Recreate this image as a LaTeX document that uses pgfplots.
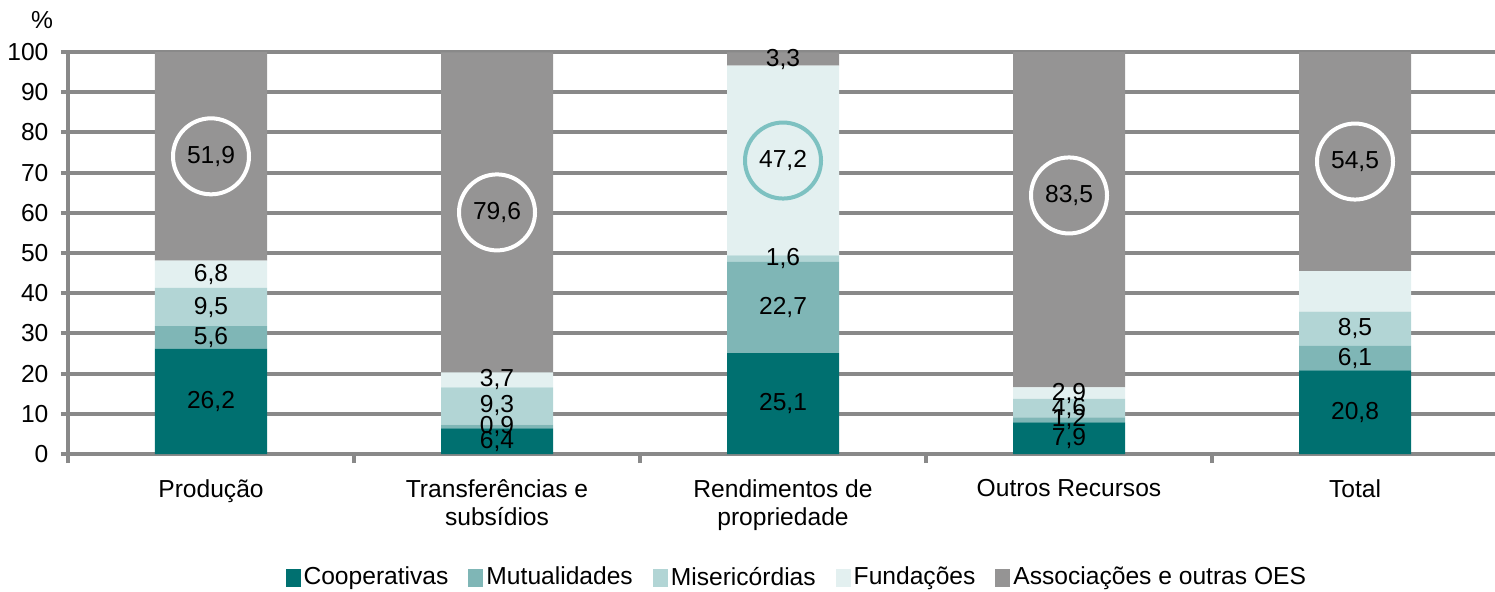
\documentclass[border=0pt]{standalone}
\usepackage{fontspec}
\setmainfont{Liberation Sans}
\usepackage{pgfplots}
\usepackage{pgfplotstable}
\pgfplotsset{compat=1.18}
\usetikzlibrary{calc}

\definecolor{coopc}{RGB}{0,112,112}
\definecolor{mutc}{RGB}{127,182,182}
\definecolor{misc}{RGB}{178,213,213}
\definecolor{fundc}{RGB}{227,240,240}
\definecolor{assocc}{RGB}{149,148,148}
\definecolor{gridc}{RGB}{137,137,137}
\definecolor{ringc}{RGB}{125,193,193}

% shares (%) by origin of resources
\pgfplotstableread{
cat coop mut mis fund assoc
0   26.2 5.6  9.5 6.8  51.9
1   6.4  0.9  9.3 3.7  79.6
2   25.1 22.7 1.6 47.2 3.3
3   7.9  1.2  4.6 2.9  83.5
4   20.8 6.1  8.5 10.1 54.5
}\data

\pgfplotsset{
  base/.style={
    width=715pt, height=201pt, scale only axis,
    xmin=-0.5, xmax=4.5, ymin=0, ymax=100,
  },
  lbl/.style={
    draw=none, mark=none,
    point meta=explicit,
    /pgf/number format/assume math mode=true,
    nodes near coords={\pgfmathprintnumber[fixed,precision=1,fixed zerofill,use comma,assume math mode=true]{\pgfplotspointmeta}},
    every node near coord/.append style={anchor=center, text=black, inner sep=0pt},
  },
  ring/.style={
    every node near coord/.append style={circle, draw=#1, line width=2pt, minimum size=38pt},
  },
}

\begin{document}
\fontsize{12.3}{14}\selectfont
\begin{tikzpicture}
\begin{axis}[
  base,
  ybar stacked, bar width=56pt,
  axis lines*=left,
  axis line style={line width=2pt, gridc},
  ytick={0,10,...,100},
  ymajorgrids,
  grid style={line width=2pt, gridc},
  xtick={0,...,4},
  xticklabels={Produção,{Transferências e\\subsídios},{Rendimentos de\\propriedade},Outros Recursos,Total},
  xticklabel style={align=center, yshift=-5pt},
  yticklabel style={xshift=-2pt},
  minor xtick={-0.5,0.5,...,4.5},
  tick align=outside,
  major tick length=3.5pt, minor tick length=4.5pt,
  tick style={line width=2pt, gridc},
  major x tick style={draw=none},
  /pgf/number format/assume math mode=true,
  every axis y label/.style={at={(rel axis cs:0,1)}, anchor=center, xshift=-13pt, yshift=16pt},
  ylabel={\%},
  legend style={at={(0.51,-0.308)}, anchor=center, draw=none, fill=none,
    legend columns=-1, nodes={inner xsep=1.5pt},
    /tikz/every even column/.append style={column sep=8.5pt}},
  legend image code/.code={\fill[#1] (0pt,-4.5pt) rectangle (7.5pt,4.5pt);},
]
\addplot[fill=coopc, draw=none] table[x=cat, y=coop] {\data};
\addlegendentry{Cooperativas}
\addplot[fill=mutc, draw=none] table[x=cat, y=mut] {\data};
\addlegendentry{Mutualidades}
\addplot[fill=misc, draw=none] table[x=cat, y=mis] {\data};
\addlegendentry{Misericórdias}
\addplot[fill=fundc, draw=none] table[x=cat, y=fund] {\data};
\addlegendentry{Fundações}
\addplot[fill=assocc, draw=none] table[x=cat, y=assoc] {\data};
\addlegendentry{Associações e outras OES}
\coordinate (bl) at (rel axis cs:0,0);
\coordinate (tr) at (rel axis cs:1,1);
\end{axis}

% data labels, centred in each segment
\begin{axis}[base, hide axis]
\addplot[lbl] table[x=cat, y expr=\thisrow{coop}/2, meta=coop] {\data};
\addplot[lbl] table[x=cat, y expr=\thisrow{coop}+\thisrow{mut}/2, meta=mut] {\data};
\addplot[lbl] table[x=cat, y expr=\thisrow{coop}+\thisrow{mut}+\thisrow{mis}/2, meta=mis] {\data};
\addplot[lbl, x filter/.expression={x==4 ? nan : (x==2 ? nan : x)}]
  table[x=cat, y expr=\thisrow{coop}+\thisrow{mut}+\thisrow{mis}+\thisrow{fund}/2, meta=fund] {\data};
\addplot[lbl, ring=ringc, x filter/.expression={x==2 ? x : nan}]
  table[x=cat, y expr=\thisrow{coop}+\thisrow{mut}+\thisrow{mis}+\thisrow{fund}/2, meta=fund] {\data};
\addplot[lbl, x filter/.expression={x==2 ? x : nan}]
  table[x=cat, y expr=\thisrow{coop}+\thisrow{mut}+\thisrow{mis}+\thisrow{fund}+\thisrow{assoc}/2, meta=assoc] {\data};
\addplot[lbl, ring=white, x filter/.expression={x==2 ? nan : x},
  coordinate style/.condition={x==3}{yshift=12pt}]
  table[x=cat, y expr=\thisrow{coop}+\thisrow{mut}+\thisrow{mis}+\thisrow{fund}+\thisrow{assoc}/2, meta=assoc] {\data};
\end{axis}

\pgfresetboundingbox
\path[use as bounding box] ($(bl)+(-34pt,-68.5pt)$) rectangle ($(tr)+(-1.5pt,26pt)$);
\end{tikzpicture}
\end{document}
